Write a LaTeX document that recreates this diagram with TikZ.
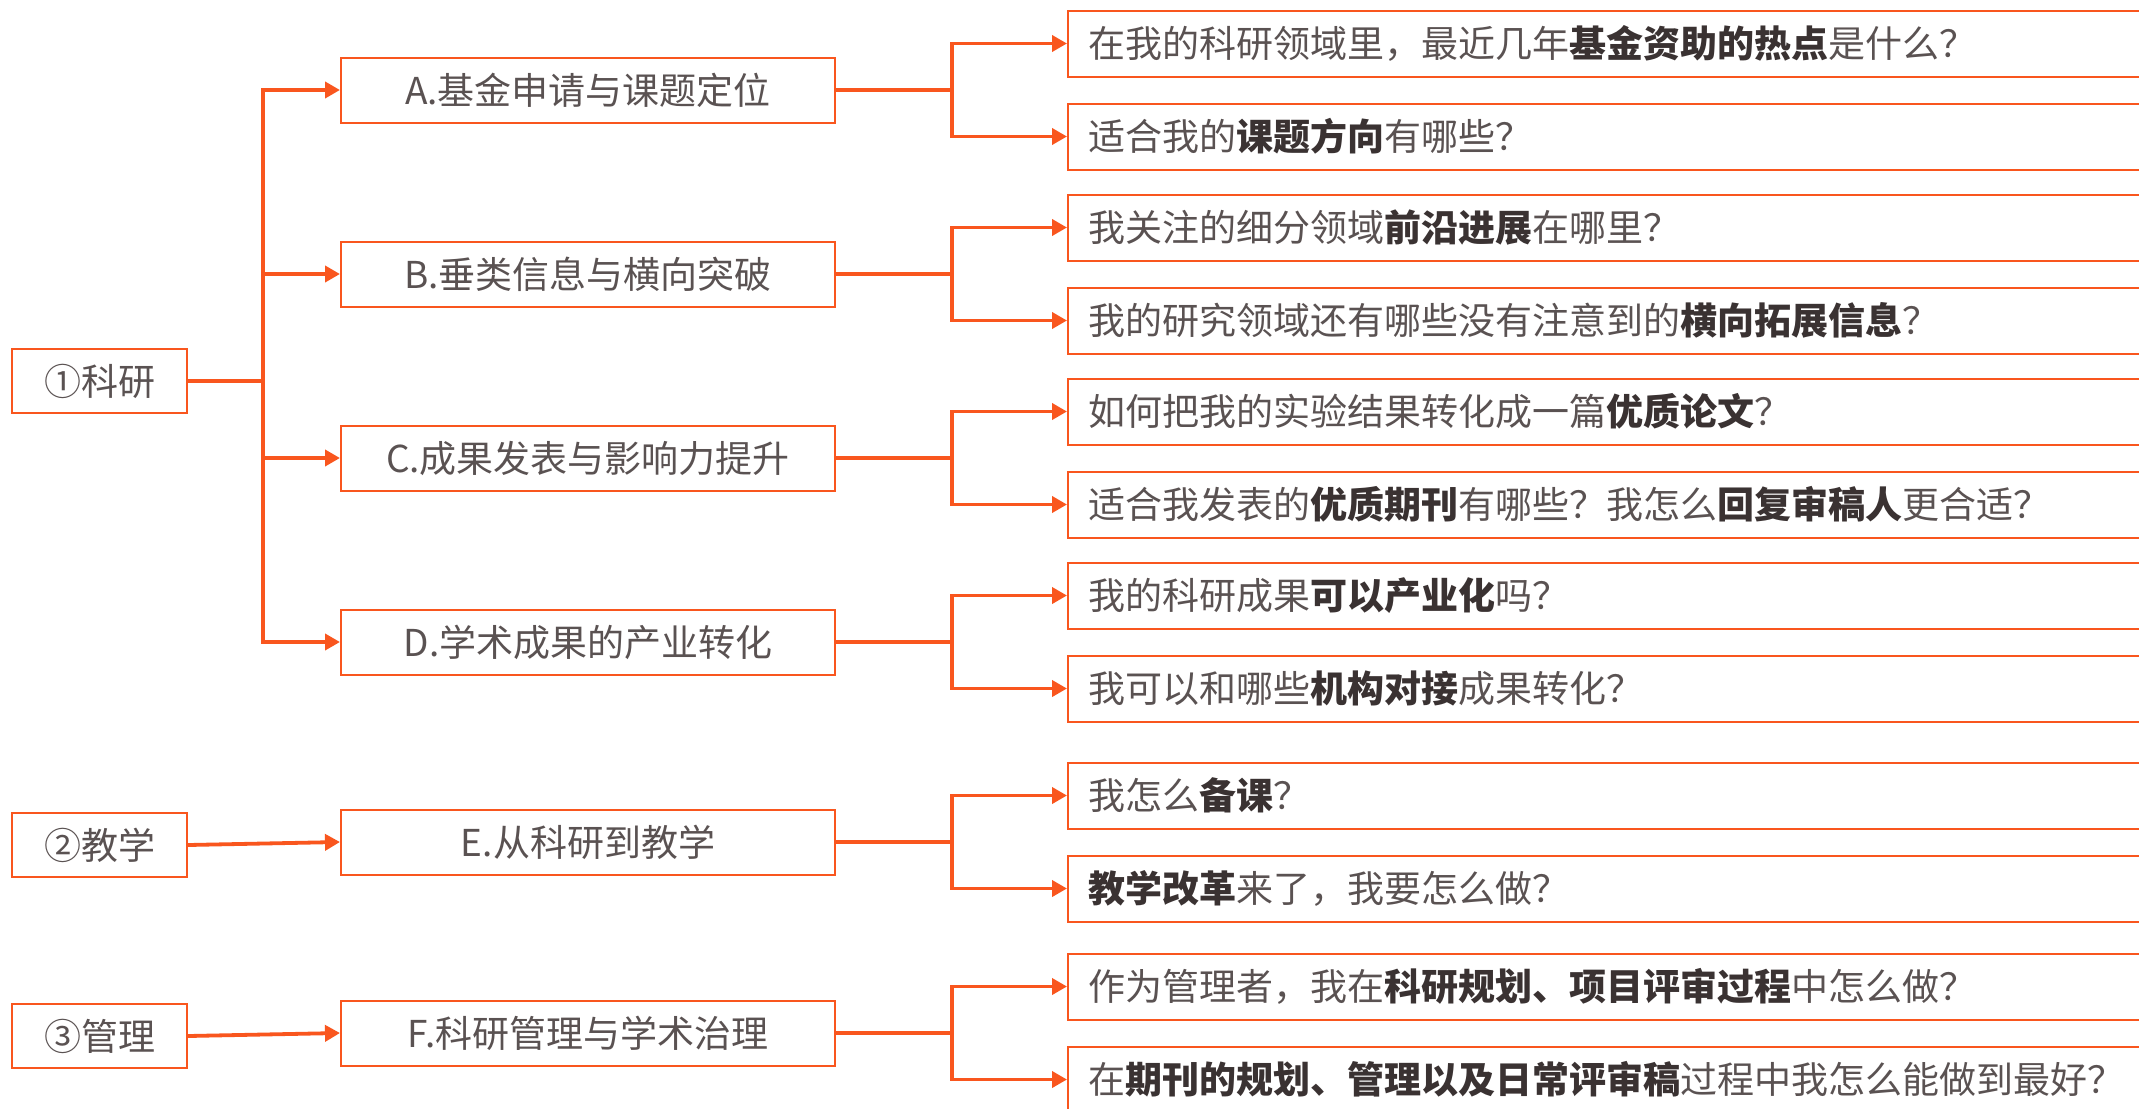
\documentclass[tikz,border=0pt]{standalone}
\usepackage{fontspec}
\setmainfont{Noto Sans CJK SC}
\usetikzlibrary{arrows.meta}
\definecolor{org}{HTML}{F9561E}
\definecolor{txt}{HTML}{5A5252}
\definecolor{btxt}{HTML}{3A3232}
\newcommand{\hb}[1]{{\bfseries\color{btxt}#1}}
\tikzset{
  box/.style={draw=org, line width=1pt, fill=white, text=txt, font=\fontsize{18.5pt}{22pt}\selectfont, inner sep=0pt},
  rootbox/.style={box, minimum width=87.5pt, minimum height=32pt},
  midbox/.style={box, minimum width=247pt, minimum height=32.5pt},
  qbox/.style={box, anchor=west, text width=540pt, align=left, inner xsep=10pt, minimum height=33pt},
  conn/.style={draw=org, line width=1.9pt},
  arr/.style={conn, -{Triangle[length=7.5pt, width=8pt]}}
}
\begin{document}
\begin{tikzpicture}[x=0.5pt, y=-0.5pt]
\clip (0,0) rectangle (2139,1108);
\fill[white] (0,0) rectangle (2139,1108);
% roots
\node[rootbox] (r1) at (99.5,381) {①科研};
\node[rootbox] (r2) at (99.5,845) {②教学};
\node[rootbox] (r3) at (99.5,1036) {③管理};
% mid boxes
\node[midbox] (A) at (588,90) {A.基金申请与课题定位};
\node[midbox] (B) at (588,274) {B.垂类信息与横向突破};
\node[midbox] (C) at (588,458) {C.成果发表与影响力提升};
\node[midbox] (D) at (588,642) {D.学术成果的产业转化};
\node[midbox] (E) at (588,842) {E.从科研到教学};
\node[midbox] (F) at (588,1033) {F.科研管理与学术治理};
% question boxes
\node[qbox] (A1) at (1067,43.5) {在我的科研领域里，最近几年\hb{基金资助的热点}是什么？};
\node[qbox] (A2) at (1067,136.5) {适合我的\hb{课题方向}有哪些？};
\node[qbox] (B1) at (1067,227.5) {我关注的细分领域\hb{前沿进展}在哪里？};
\node[qbox] (B2) at (1067,320.5) {我的研究领域还有哪些没有注意到的\hb{横向拓展信息}？};
\node[qbox] (C1) at (1067,411.5) {如何把我的实验结果转化成一篇\hb{优质论文}？};
\node[qbox] (C2) at (1067,504.5) {适合我发表的\hb{优质期刊}有哪些？我怎么\hb{回复审稿人}更合适？};
\node[qbox] (D1) at (1067,595.5) {我的科研成果\hb{可以产业化}吗？};
\node[qbox] (D2) at (1067,688.5) {我可以和哪些\hb{机构对接}成果转化？};
\node[qbox] (E1) at (1067,795.5) {我怎么\hb{备课}？};
\node[qbox] (E2) at (1067,888.5) {\hb{教学改革}来了，我要怎么做？};
\node[qbox] (F1) at (1067,986.5) {作为管理者，我在\hb{科研规划、项目评审过程}中怎么做？};
\node[qbox] (F2) at (1067,1079.5) {在\hb{期刊的规划、管理以及日常评审稿}过程中我怎么能做到最好？};
% junctions
\coordinate (j0) at (263,381);
\coordinate (jA) at (952,90);
\coordinate (jB) at (952,274);
\coordinate (jC) at (952,458);
\coordinate (jD) at (952,642);
\coordinate (jE) at (952,842);
\coordinate (jF) at (952,1033);
% connectors
\foreach \m in {A,B,C,D}{
  \draw[arr] (r1.east) -- (j0) |- (\m.west);
}
\draw[arr] (r2.east) -- (E.west);
\draw[arr] (r3.east) -- (F.west);
\foreach \m in {A,B,C,D,E,F}{
  \draw[arr] (\m.east) -- (j\m) |- (\m1.west);
  \draw[arr] (\m.east) -- (j\m) |- (\m2.west);
}
\end{tikzpicture}
\end{document}
